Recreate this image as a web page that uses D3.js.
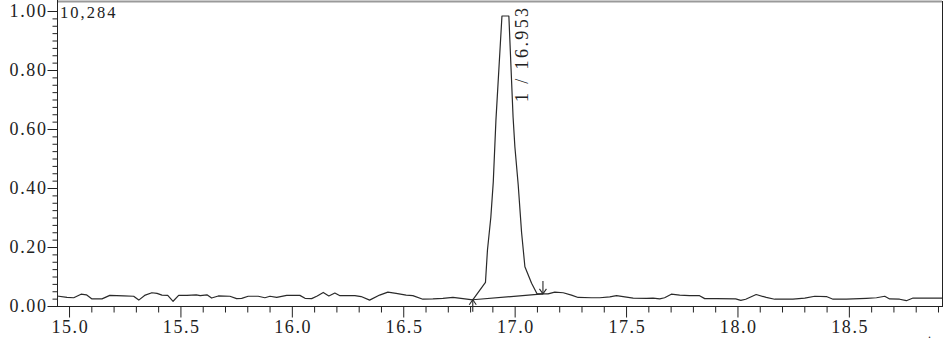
<!DOCTYPE html>
<html>
<head>
<meta charset="utf-8">
<script src="https://cdn.jsdelivr.net/npm/d3@7"></script>
<style>
  html, body { margin: 0; padding: 0; background: #fff; }
  svg { display: block; }
</style>
</head>
<body>
<svg id="chart" width="950" height="342"></svg>
<script>
// ---- data ----
const times = [
  14.946, 14.991, 15.021, 15.054, 15.078, 15.103, 15.148, 15.183, 15.245, 15.290,
  15.313, 15.342, 15.372, 15.395, 15.417, 15.443, 15.467, 15.492, 15.529, 15.571,
  15.589, 15.619, 15.640, 15.670, 15.722, 15.752, 15.775, 15.804, 15.849, 15.879,
  15.902, 15.932, 15.977, 16.036, 16.059, 16.089, 16.114, 16.141, 16.166, 16.193,
  16.216, 16.283, 16.311, 16.349, 16.394, 16.431, 16.468, 16.513, 16.543, 16.588,
  16.633, 16.678, 16.723, 16.768, 16.812, 16.869, 16.878, 16.893, 16.904, 16.916,
  16.943, 16.974, 16.993, 17.001, 17.016, 17.031, 17.046, 17.076, 17.101, 17.150,
  17.180, 17.218, 17.255, 17.285, 17.345, 17.382, 17.427, 17.457, 17.487, 17.532,
  17.592, 17.621, 17.651, 17.673, 17.703, 17.741, 17.785, 17.830, 17.853, 17.906,
  17.992, 18.015, 18.037, 18.084, 18.129, 18.167, 18.249, 18.302, 18.347, 18.399,
  18.429, 18.489, 18.579, 18.624, 18.661, 18.683, 18.728, 18.758, 18.788, 18.878,
  18.918
];
const signal = [
  0.034, 0.029, 0.028, 0.040, 0.038, 0.024, 0.024, 0.036, 0.034, 0.033,
  0.020, 0.037, 0.045, 0.043, 0.037, 0.036, 0.016, 0.036, 0.036, 0.038,
  0.035, 0.038, 0.027, 0.034, 0.033, 0.025, 0.026, 0.033, 0.033, 0.028,
  0.033, 0.029, 0.036, 0.036, 0.026, 0.025, 0.034, 0.046, 0.034, 0.044,
  0.035, 0.035, 0.032, 0.020, 0.037, 0.047, 0.043, 0.037, 0.035, 0.023,
  0.024, 0.026, 0.029, 0.025, 0.021, 0.080, 0.190, 0.300, 0.420, 0.630,
  0.983, 0.983, 0.640, 0.540, 0.410, 0.250, 0.133, 0.077, 0.041, 0.041,
  0.047, 0.045, 0.037, 0.029, 0.028, 0.028, 0.031, 0.035, 0.032, 0.027,
  0.026, 0.027, 0.024, 0.028, 0.040, 0.037, 0.035, 0.035, 0.025, 0.025,
  0.024, 0.019, 0.023, 0.039, 0.029, 0.023, 0.023, 0.027, 0.033, 0.032,
  0.023, 0.023, 0.026, 0.028, 0.033, 0.024, 0.023, 0.018, 0.027, 0.027,
  0.027
];
// integration baseline of peak 1 (start, end)
const baseTimes = [16.812, 17.127];
const baseValues = [0.021, 0.041];
// peak label
const peakNumber = 1;
const peakTime = 16.953;
const headerLabel = "10,284";

const xDomain = [14.946, 18.918];
const xMajorTicks = [15.0, 15.5, 16.0, 16.5, 17.0, 17.5, 18.0, 18.5];
const xTickLabels = ["15.0", "15.5", "16.0", "16.5", "17.0", "17.5", "18.0", "18.5"];
const xMinorStep = 0.1;
const yMajorTicks = [0, 0.2, 0.4, 0.6, 0.8, 1.0];
const yTickLabels = ["0.00", "0.20", "0.40", "0.60", "0.80", "1.00"];
const yMinorStep = 0.025;

// ---- layout ----
const FONT = "'Liberation Serif', 'DejaVu Serif', serif";
const svg = d3.select("#chart");
const L = 57, R = 942, T = 11, B = 306;
const x = d3.scaleLinear().domain(xDomain).range([L, R]);
const y = d3.scaleLinear().domain([0, 1]).range([B, T]);

const axisColor = "#222";

// top border and right border
svg.append("line").attr("x1", L).attr("x2", R).attr("y1", 1.5).attr("y2", 1.5)
  .attr("stroke", "#9a9a9a").attr("stroke-width", 2);
svg.append("line").attr("x1", R + 0.5).attr("x2", R + 0.5).attr("y1", 1).attr("y2", B + 1)
  .attr("stroke", axisColor).attr("stroke-width", 1);

// x axis: minor ticks
const xMinor = d3.range(Math.round(15.0 / xMinorStep), Math.round(18.9 / xMinorStep) + 1)
  .map(i => +(i * xMinorStep).toFixed(2))
  .filter(v => v >= xDomain[0] && v <= xDomain[1] && !xMajorTicks.some(m => Math.abs(m - v) < 1e-6));
const gx = svg.append("g").attr("transform", `translate(0,${B + 0.5})`);
gx.call(d3.axisBottom(x).tickValues(xMinor).tickSize(6).tickFormat(""))
  .call(g => g.select(".domain").remove());
gx.append("g")
  .call(d3.axisBottom(x).tickValues(xMajorTicks).tickSize(11)
    .tickFormat((d, i) => xTickLabels[i]))
  .call(g => g.select(".domain").remove())
  .call(g => g.selectAll("text")
    .style("font-family", FONT)
    .style("font-size", "18px")
    .style("letter-spacing", "1.6px")
    .attr("fill", axisColor)
    .attr("dy", 0)
    .attr("dx", 0.8)
    .attr("y", 26.5));
gx.selectAll("line").attr("stroke", axisColor);
svg.append("line").attr("x1", L).attr("x2", R + 1).attr("y1", B + 0.5).attr("y2", B + 0.5)
  .attr("stroke", axisColor);

// y axis
const yMinor = d3.range(0, Math.round(1 / yMinorStep) + 1)
  .map(i => +(i * yMinorStep).toFixed(3))
  .filter(v => !yMajorTicks.some(m => Math.abs(m - v) < 1e-6));
const gy = svg.append("g").attr("transform", `translate(${L + 0.5},0)`);
gy.call(d3.axisLeft(y).tickValues(yMinor).tickSize(5).tickFormat(""))
  .call(g => g.select(".domain").remove());
gy.append("g")
  .call(d3.axisLeft(y).tickValues(yMajorTicks).tickSize(10)
    .tickFormat((d, i) => yTickLabels[i]))
  .call(g => g.select(".domain").remove())
  .call(g => g.selectAll("text")
    .style("font-family", FONT)
    .style("font-size", "18px")
    .style("letter-spacing", "1.6px")
    .attr("fill", axisColor)
    .attr("x", -10));
gy.selectAll("line").attr("stroke", axisColor);
svg.append("line").attr("x1", L + 0.5).attr("x2", L + 0.5).attr("y1", 0).attr("y2", B + 1)
  .attr("stroke", axisColor);

// header label
svg.append("text").attr("x", L + 3).attr("y", T + 7)
  .style("font-family", FONT).style("font-size", "16.5px").style("letter-spacing", "2px")
  .attr("fill", axisColor).text(headerLabel);

// chromatogram line
const line = d3.line().x(d => x(d[0])).y(d => y(d[1]));
const pts = times.map((t, i) => [t, signal[i]]);
svg.append("path").datum(pts).attr("d", line)
  .attr("fill", "none").attr("stroke", "#2a2a2a").attr("stroke-width", 1.2)
  .attr("stroke-linejoin", "round");

// integration baseline
svg.append("path").datum(baseTimes.map((t, i) => [t, baseValues[i]])).attr("d", line)
  .attr("fill", "none").attr("stroke", "#2a2a2a").attr("stroke-width", 1.1);

// start marker (arrow pointing up) and end marker (arrow pointing down)
function arrow(t, v, dir) {
  const ax = x(t), ay = y(v);
  const g = svg.append("g").attr("stroke", "#2a2a2a").attr("fill", "none").attr("stroke-width", 1.1);
  if (dir === "up") {
    g.append("line").attr("x1", ax).attr("x2", ax).attr("y1", ay).attr("y2", ay + 12);
    g.append("path").attr("d", `M${ax - 3.5},${ay + 5}L${ax},${ay}L${ax + 3.5},${ay + 5}`);
  } else {
    g.append("line").attr("x1", ax).attr("x2", ax).attr("y1", ay - 13).attr("y2", ay);
    g.append("path").attr("d", `M${ax - 3.5},${ay - 5}L${ax},${ay}L${ax + 3.5},${ay - 5}`);
  }
}
arrow(baseTimes[0], baseValues[0], "up");
arrow(baseTimes[1], baseValues[1], "down");

// peak label (rotated)
const lx = x(peakTime) + 24, ly = 102;
svg.append("text")
  .attr("transform", `translate(${lx},${ly}) rotate(-90)`)
  .style("font-family", FONT).style("font-size", "18px").style("letter-spacing", "2.4px")
  .attr("fill", axisColor)
  .text(`${peakNumber} / ${peakTime.toFixed(3)}`);

// small trailing dot at lower right
svg.append("text").attr("x", 928).attr("y", 338)
  .style("font-family", FONT).style("font-size", "12px")
  .attr("fill", axisColor).text(".");
</script>
</body>
</html>
